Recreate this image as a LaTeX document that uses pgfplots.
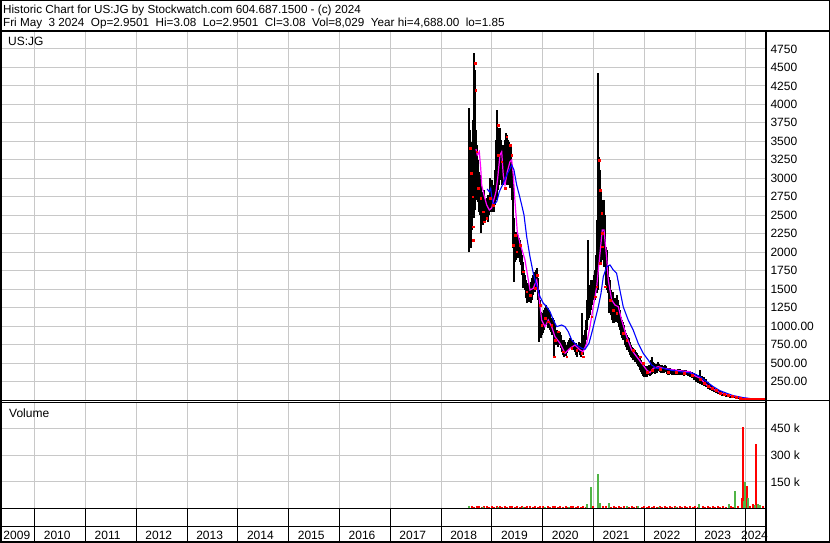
\documentclass[border=0pt]{standalone}
\usepackage{fontspec}
\setmainfont{Liberation Sans}
\usepackage{pgfplots}
\usepackage{pgfplotstable}
\pgfplotsset{compat=1.18}
\definecolor{gridc}{RGB}{200,200,200}
\definecolor{volgreen}{RGB}{80,180,70}
\definecolor{magline}{RGB}{255,0,255}
\definecolor{blueline}{RGB}{0,0,255}

\pgfplotstableread{
x lo hi
2018.549 2002 3951
2018.569 2165 3653
2018.589 2057 3491
2018.608 2300 3383
2018.628 2503 3788
2018.648 2462 4695
2018.667 2571 4465
2018.687 2706 3653
2018.707 2774 3450
2018.726 2679 3247
2018.746 2544 3085
2018.766 2503 3044
2018.785 2260 2909
2018.805 2408 2814
2018.825 2368 2774
2018.844 2408 2841
2018.864 2408 2706
2018.884 2435 2679
2018.904 2462 2733
2018.923 2408 2774
2018.943 2503 2706
2018.963 2544 3004
2018.982 2638 2909
2019.002 2544 2977
2019.022 2571 2909
2019.041 2544 2841
2019.061 2638 3112
2019.081 2706 3518
2019.100 2706 3924
2019.120 2841 3680
2019.140 2909 3585
2019.159 3044 3680
2019.179 2977 3518
2019.199 2909 3450
2019.219 2909 3383
2019.238 2977 3450
2019.258 3044 3518
2019.278 2950 3613
2019.297 2909 3585
2019.317 2977 3518
2019.337 2909 3491
2019.356 2868 3383
2019.376 2977 3450
2019.396 2706 3180
2019.415 2057 3044
2019.435 1597 2462
2019.455 1867 2273
2019.474 1894 2232
2019.494 1962 2273
2019.514 1921 2232
2019.534 1921 2192
2019.553 1867 2165
2019.573 1827 2097
2019.593 1691 1962
2019.612 1515 1867
2019.632 1556 1759
2019.652 1488 1691
2019.671 1380 1624
2019.691 1312 1556
2019.711 1353 1583
2019.730 1326 1515
2019.750 1353 1556
2019.770 1312 1597
2019.789 1353 1651
2019.809 1421 1691
2019.829 1488 1732
2019.848 1461 1691
2019.868 1556 1759
2019.888 1488 1786
2019.907 1353 1651
2019.927 785 1488
2019.947 879 1353
2019.966 839 1191
2019.986 879 1150
2020.006 907 1177
2020.026 947 1218
2020.045 1015 1245
2020.065 1055 1285
2020.085 1015 1218
2020.104 974 1245
2020.124 1015 1218
2020.144 947 1191
2020.163 920 1109
2020.183 879 1082
2020.203 947 1109
2020.222 582 1082
2020.242 744 1015
2020.262 744 947
2020.281 785 947
2020.301 717 920
2020.321 744 879
2020.341 771 920
2020.360 704 879
2020.380 649 812
2020.400 609 785
2020.419 582 812
2020.439 609 785
2020.459 595 744
2020.478 636 744
2020.498 677 785
2020.518 704 812
2020.537 717 839
2020.557 704 812
2020.577 677 785
2020.596 717 812
2020.616 677 771
2020.636 649 744
2020.656 609 771
2020.675 582 744
2020.695 649 744
2020.715 677 785
2020.734 609 771
2020.754 582 744
2020.774 677 1177
2020.793 609 879
2020.813 677 839
2020.833 744 947
2020.852 812 1082
2020.872 947 1353
2020.892 1082 2165
2020.911 1109 1421
2020.931 1150 1556
2020.951 1218 1624
2020.970 1285 1488
2020.990 1353 1624
2021.010 1380 1691
2021.030 1353 1759
2021.049 1488 1962
2021.069 1448 2435
2021.089 1488 4424
2021.108 1894 3288
2021.128 1962 3112
2021.148 1827 2841
2021.167 1894 2706
2021.187 1921 2638
2021.207 1799 2706
2021.226 1827 2503
2021.246 1556 2070
2021.266 1488 2030
2021.285 1448 1827
2021.305 1177 1664
2021.325 1218 1624
2021.344 1150 1488
2021.364 1082 1421
2021.384 1042 1461
2021.404 1042 1353
2021.423 1109 1380
2021.443 1055 1353
2021.463 1082 1421
2021.482 1042 1353
2021.502 988 1285
2021.522 947 1218
2021.541 879 1123
2021.561 839 1082
2021.581 812 1055
2021.600 812 1015
2021.620 744 947
2021.640 717 907
2021.659 677 879
2021.679 677 852
2021.699 649 839
2021.719 609 785
2021.738 582 744
2021.758 568 717
2021.778 541 704
2021.797 541 677
2021.817 514 677
2021.837 514 649
2021.856 487 636
2021.876 460 609
2021.896 446 595
2021.915 406 568
2021.935 379 541
2021.955 352 501
2021.974 325 487
2021.994 311 474
2022.014 311 460
2022.033 325 460
2022.053 311 446
2022.073 338 460
2022.093 352 474
2022.112 325 446
2022.132 338 541
2022.152 352 582
2022.171 365 514
2022.191 379 501
2022.211 352 474
2022.230 379 487
2022.250 365 474
2022.270 406 514
2022.289 392 487
2022.309 379 474
2022.329 365 460
2022.348 379 474
2022.368 365 460
2022.388 365 446
2022.407 379 474
2022.427 379 460
2022.447 352 433
2022.467 338 433
2022.486 338 419
2022.506 352 433
2022.545 338 419
2022.585 338 419
2022.624 338 406
2022.663 338 419
2022.703 338 419
2022.742 338 406
2022.781 325 406
2022.821 338 406
2022.860 325 392
2022.900 311 392
2022.939 298 379
2022.978 271 365
2023.018 244 352
2023.057 230 338
2023.096 216 406
2023.136 203 325
2023.175 189 311
2023.215 176 284
2023.254 149 244
2023.293 135 216
2023.333 122 189
2023.372 108 176
2023.411 95 149
2023.451 81 135
2023.490 68 122
2023.530 54 108
2023.569 54 95
2023.608 41 81
2023.648 41 81
2023.687 27 68
2023.726 27 68
2023.766 27 54
2023.805 14 54
2023.844 14 41
2023.884 14 41
2023.923 3 27
}\bars

\pgfplotstableread{
x y
2018.569 3405
2018.589 3071
2018.622 2751
2018.634 2345
2018.634 2165
2018.667 4556
2018.681 4194
2018.701 3359
2018.732 2864
2018.779 2729
2018.831 2548
2018.844 2412
2018.898 2458
2018.963 2729
2019.027 2638
2019.126 3721
2019.126 3315
2019.193 3224
2019.258 2864
2019.291 3562
2019.356 3450
2019.390 3315
2019.421 2097
2019.455 2232
2019.488 2007
2019.553 2097
2019.618 1736
2019.685 1465
2019.750 1421
2019.848 1511
2019.894 1691
2019.947 1285
2019.980 1015
2020.045 1105
2020.110 1059
2020.177 1015
2020.222 586
2020.242 812
2020.307 924
2020.406 654
2020.472 586
2020.571 700
2020.669 677
2020.768 632
2020.799 586
2020.964 1127
2021.030 1398
2021.063 1533
2021.114 3247
2021.128 2841
2021.128 1850
2021.161 2526
2021.173 2255
2021.173 2074
2021.226 1533
2021.325 1353
2021.390 1218
2021.455 1173
2021.585 902
2021.653 812
2021.781 677
2021.915 586
2021.980 497
2022.053 379
2022.152 406
2022.309 419
2022.467 379
2022.624 379
2022.781 365
2022.939 338
2023.096 284
2023.175 230
2023.254 189
2023.333 162
2023.411 135
2023.490 95
2023.569 81
2023.648 68
2023.726 54
2023.805 41
2023.884 27
2023.923 20
2023.963 16
2024.002 14
2024.022 14
2024.041 14
2024.061 14
2024.081 14
2024.100 14
2024.120 14
2024.140 14
2024.159 14
2024.179 14
2024.199 14
2024.219 14
2024.238 14
2024.258 14
2024.278 14
2024.297 14
2024.317 14
2024.337 14
2024.356 14
2024.372 14
}\closes

\pgfplotstableread{
x y
2018.687 3396
2018.713 3315
2018.752 3359
2018.780 3139
2018.799 2909
2018.844 2774
2018.898 2638
2018.949 2571
2018.996 2598
2019.028 2683
2019.081 2818
2019.114 3004
2019.159 3315
2019.193 3359
2019.224 3044
2019.258 2909
2019.303 3089
2019.356 3224
2019.390 3247
2019.421 3044
2019.455 2683
2019.500 2277
2019.553 2120
2019.652 1894
2019.750 1488
2019.815 1511
2019.882 1624
2019.927 1398
2019.980 1082
2020.045 992
2020.110 1082
2020.177 992
2020.242 856
2020.341 767
2020.439 632
2020.537 700
2020.636 744
2020.734 677
2020.799 654
2020.866 767
2020.931 992
2020.996 1262
2021.063 1533
2021.128 1985
2021.173 2300
2021.207 2300
2021.260 1921
2021.291 1624
2021.358 1353
2021.423 1285
2021.488 1262
2021.555 1082
2021.653 856
2021.752 677
2021.850 586
2021.949 497
2022.047 406
2022.112 369
2022.177 429
2022.276 451
2022.374 429
2022.506 415
2022.703 396
2022.900 383
2022.965 338
2023.096 294
2023.228 203
2023.358 145
2023.490 99
2023.687 64
2023.884 37
2024.146 9
2024.376 3
}\maf

\pgfplotstableread{
x y
2018.906 2855
2018.949 2818
2018.976 2864
2019.002 2729
2019.028 2638
2019.095 2683
2019.146 2818
2019.193 2886
2019.238 2954
2019.291 3044
2019.343 3112
2019.390 3180
2019.435 3112
2019.488 2909
2019.539 2774
2019.587 2638
2019.632 2503
2019.685 2209
2019.750 1939
2019.815 1714
2019.868 1579
2019.947 1398
2020.012 1308
2020.079 1262
2020.144 1195
2020.209 1082
2020.276 992
2020.374 1015
2020.439 992
2020.504 924
2020.571 812
2020.669 744
2020.768 700
2020.833 686
2020.911 767
2020.964 902
2021.030 1082
2021.095 1262
2021.148 1444
2021.193 1668
2021.260 1804
2021.325 1827
2021.390 1759
2021.455 1714
2021.506 1533
2021.585 1262
2021.683 1082
2021.781 947
2021.880 767
2021.978 632
2022.077 541
2022.144 474
2022.242 429
2022.374 429
2022.506 406
2022.703 383
2022.965 361
2023.096 315
2023.228 248
2023.358 180
2023.490 126
2023.622 91
2023.753 58
2023.950 31
2024.146 14
2024.376 3
}\mas

\pgfplotstableread{
x v
2018.60 12000
2018.65 11000
2018.70 13000
2018.75 12000
2018.80 11000
2018.85 12000
2018.90 13000
2018.95 11000
2019.00 12000
2019.05 11000
2019.10 12000
2019.15 13000
2019.20 11000
2019.25 12000
2019.30 11000
2019.35 12000
2019.40 13000
2019.45 11000
2019.50 12000
2019.55 11000
2019.60 12000
2019.65 11000
2019.70 13000
2019.75 12000
2019.80 11000
2019.85 12000
2019.90 11000
2019.95 12000
2020.00 13000
2020.05 11000
2020.10 12000
2020.15 11000
2020.20 12000
2020.25 13000
2020.30 11000
2020.35 12000
2020.40 11000
2020.45 12000
2020.50 11000
2020.55 12000
2020.60 13000
2020.65 11000
2020.70 12000
2020.75 11000
2020.80 12000
2020.85 11000
2020.99 14000
2021.19 16000
2021.25 12000
2021.35 11000
2021.40 12000
2021.45 11000
2021.50 12000
2021.55 11000
2021.60 12000
2021.70 11000
2021.75 12000
2021.80 11000
2021.85 12000
2021.95 11000
2022.00 12000
2022.05 11000
2022.10 12000
2022.15 11000
2022.20 12000
2022.25 11000
2022.30 12000
2022.35 11000
2022.40 12000
2022.45 11000
2022.50 12000
2022.55 11000
2022.60 12000
2022.65 11000
2022.70 12000
2022.75 11000
2022.80 12000
2022.85 11000
2022.90 12000
2022.95 11000
2023.00 12000
2023.05 11000
2023.15 12000
2023.20 11000
2023.25 12000
2023.30 11000
2023.36 15000
2023.40 11000
2023.45 12000
2023.50 11000
2023.55 12000
2023.60 11000
2023.70 12000
2023.75 11000
2023.85 12000
2023.92 61000
2023.94 459000
2024.02 126000
2024.09 14000
2024.14 25000
2024.20 362000
2024.34 12000
}\volred

\pgfplotstableread{
x v
2018.55 13000
2018.83 11000
2019.12 11000
2019.62 11000
2020.05 11000
2020.52 11000
2020.87 24000
2020.96 119000
2021.08 194000
2021.12 29000
2021.31 32000
2021.65 13000
2021.88 13000
2022.28 11000
2022.62 11000
2023.08 25000
2023.66 25000
2023.78 100000
2023.97 44000
2023.99 149000
2024.05 59000
2024.17 20000
2024.24 25000
2024.28 22000
}\volgreen

\begin{document}
\begin{tikzpicture}[x=1pt,y=1pt]
\path[use as bounding box] (0,0) rectangle (830,543);
\fill[white] (0,0) rectangle (830,543);

% ---------- price panel ----------
\begin{axis}[
  at={(1pt,142.5pt)}, anchor=south west,
  width=764.5pt, height=369pt, scale only axis,
  xmin=2009.337, xmax=2024.386, ymin=-6.8, ymax=4986,
  xtick={2010,2011,...,2024}, xticklabels={},
  ytick={250,500,...,4750},
  yticklabels={250.00,500.00,750.00,1000.00,1250,1500,1750,2000,2250,2500,2750,3000,3250,3500,3750,4000,4250,4500,4750},
  yticklabel pos=right,
  major tick length=0pt,
  grid=major, grid style={gridc, line width=1pt},
  axis line style={black, line width=1pt},
  yticklabel style={font=\fontsize{12}{14}\selectfont, anchor=west, xshift=1.5pt},
  clip=true,
]
\addplot[only marks, mark=none, mark size=0pt, mark options={draw opacity=0, fill opacity=0},
  error bars/.cd, y dir=plus, y explicit, error mark=none,
  error bar style={black, line width=1.1pt}]
  table[x=x, y=lo, y error expr=\thisrow{hi}-\thisrow{lo}] {\bars};
\addplot[only marks, mark=square*, mark size=0.75pt, red, mark options={draw=red, fill=red}] table[x=x, y=y] {\closes};
\addplot[magline, line width=1.2pt, mark=none] table[x=x, y=y] {\maf};
\addplot[blueline, line width=1.1pt, mark=none] table[x=x, y=y] {\mas};
\end{axis}

% ---------- volume panel ----------
\begin{axis}[
  at={(1pt,34.5pt)}, anchor=south west,
  width=764.5pt, height=105.5pt, scale only axis,
  xmin=2009.337, xmax=2024.386, ymin=0, ymax=592000,
  xtick={2010,2011,...,2024}, xticklabels={},
  ytick={150000,300000,450000},
  yticklabels={150 k,300 k,450 k},
  yticklabel pos=right,
  scaled y ticks=false,
  major tick length=0pt,
  grid=major, grid style={gridc, line width=1pt},
  axis line style={black, line width=1pt},
  yticklabel style={font=\fontsize{12}{14}\selectfont, anchor=west, xshift=1.5pt},
  clip=true,
]
\addplot[ycomb, red, line width=2pt, mark=none] table[x=x, y=v] {\volred};
\addplot[ycomb, volgreen, line width=2pt, mark=none] table[x=x, y=v] {\volgreen};
\end{axis}

% ---------- year label rows ----------
\begin{axis}[
  at={(1pt,1pt)}, anchor=south west,
  width=764.5pt, height=33.5pt, scale only axis,
  xmin=2009.337, xmax=2024.386, ymin=0, ymax=1,
  xtick={2010,2011,...,2024}, xticklabels={},
  ytick=\empty,
  major tick length=0pt,
  grid=major, grid style={black, line width=1pt},
  axis line style={black, line width=1pt},
  clip=false,
]
\draw[black, line width=1pt] (rel axis cs:0,0.457) -- (rel axis cs:1,0.457);
\begin{scope}[every node/.style={anchor=base west, inner sep=0pt, font=\fontsize{12}{14}\selectfont}]
\node at (axis cs:2009.382,0.08) {2009};
\node at (axis cs:2010.177,0.08) {2010};
\node at (axis cs:2011.177,0.08) {2011};
\node at (axis cs:2012.177,0.08) {2012};
\node at (axis cs:2013.177,0.08) {2013};
\node at (axis cs:2014.177,0.08) {2014};
\node at (axis cs:2015.177,0.08) {2015};
\node at (axis cs:2016.177,0.08) {2016};
\node at (axis cs:2017.177,0.08) {2017};
\node at (axis cs:2018.177,0.08) {2018};
\node at (axis cs:2019.177,0.08) {2019};
\node at (axis cs:2020.177,0.08) {2020};
\node at (axis cs:2021.177,0.08) {2021};
\node at (axis cs:2022.177,0.08) {2022};
\node at (axis cs:2023.177,0.08) {2023};
\node at (axis cs:2023.904,0.08) {2024};
\end{scope}
\end{axis}

% ---------- frame lines and texts ----------
\draw[black, line width=2pt] (0,511.5) -- (830,511.5);
\draw[black, line width=1pt] (0,142.5) -- (830,142.5);
\draw[black, line width=1pt] (1,140) -- (765.5,140);
\draw[black, line width=2pt] (766,1) -- (766,511.5);
\draw[black, line width=1.5pt] (0.75,0.75) rectangle (829.25,542.25);

\node[anchor=base west, inner sep=0pt, font=\fontsize{11.7}{13}\selectfont] at (3,529.5)
  {Historic Chart for US:JG by Stockwatch.com 604.687.1500 - (c) 2024};
\node[anchor=base west, inner sep=0pt, font=\fontsize{11.7}{13}\selectfont] at (3,516.3)
  {Fri May~ 3 2024~ Op=2.9501~ Hi=3.08~ Lo=2.9501~ Cl=3.08~ Vol=8,029~ Year hi=4,688.00~ lo=1.85};
\node[anchor=base west, inner sep=0pt, font=\fontsize{12}{14}\selectfont] at (8,497) {US:JG};
\node[anchor=base west, inner sep=0pt, font=\fontsize{12}{14}\selectfont] at (9,125.5) {Volume};
\end{tikzpicture}
\end{document}
